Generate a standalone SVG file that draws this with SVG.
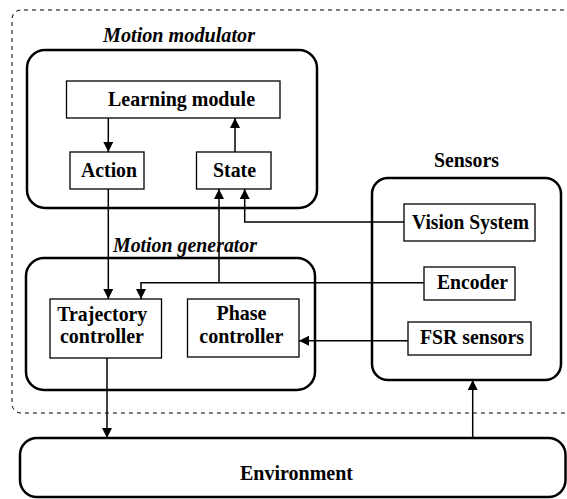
<svg xmlns="http://www.w3.org/2000/svg" width="567" height="499" viewBox="0 0 567 499">
<defs>
<style>
.grp{fill:none;stroke:#000;stroke-width:2.5}
.box{fill:#fff;stroke:#000;stroke-width:1.3}
.t{font-family:"Liberation Serif","Times New Roman",serif;font-weight:bold;font-size:21px;text-anchor:middle;fill:#000}
.ti{font-family:"Liberation Serif","Times New Roman",serif;font-weight:bold;font-style:italic;font-size:21px;text-anchor:middle;fill:#000}
.c{fill:none;stroke:#000;stroke-width:1.5}
</style>
<marker id="ah" viewBox="0 0 10 10" refX="10" refY="5" markerWidth="10" markerHeight="10" markerUnits="userSpaceOnUse" orient="auto">
<path d="M0,0 L10,5 L0,10 Z" fill="#000"/>
</marker>
</defs>
<rect width="567" height="499" fill="#fff"/>
<path id="outer" d="M580,10 H21 A9,9 0 0 0 12,19 V404 A9,9 0 0 0 21,413 H580" fill="none" stroke="#000" stroke-width="1" stroke-dasharray="4,4"/>

<g id="modulator">
<rect class="grp" x="27" y="50" width="290" height="158" rx="18"/>
<text class="ti" x="179" y="42" textLength="152" lengthAdjust="spacingAndGlyphs">Motion modulator</text>
</g>
<g id="learning">
<rect class="box" x="66.5" y="81" width="213.5" height="37"/>
<text class="t" x="181.5" y="106" textLength="147" lengthAdjust="spacingAndGlyphs">Learning module</text>
</g>
<g id="action">
<rect class="box" x="70" y="152" width="74" height="37"/>
<text class="t" x="109" y="177" textLength="56" lengthAdjust="spacingAndGlyphs">Action</text>
</g>
<g id="state">
<rect class="box" x="196.5" y="152" width="74.5" height="37"/>
<text class="t" x="234.5" y="177" textLength="43" lengthAdjust="spacingAndGlyphs">State</text>
</g>

<g id="generator">
<rect class="grp" x="26" y="258" width="289" height="132" rx="18"/>
<text class="ti" x="185" y="252" textLength="144" lengthAdjust="spacingAndGlyphs">Motion generator</text>
</g>
<g id="trajectory">
<rect class="box" x="50" y="299" width="111.5" height="59"/>
<text class="t" x="102.3" y="320.7" textLength="90" lengthAdjust="spacingAndGlyphs">Trajectory</text>
<text class="t" x="102" y="343.3" textLength="84" lengthAdjust="spacingAndGlyphs">controller</text>
</g>
<g id="phase">
<rect class="box" x="187.5" y="299" width="111.5" height="58"/>
<text class="t" x="241.5" y="320" textLength="50" lengthAdjust="spacingAndGlyphs">Phase</text>
<text class="t" x="241.3" y="343.3" textLength="84" lengthAdjust="spacingAndGlyphs">controller</text>
</g>

<g id="sensors">
<rect class="grp" x="372" y="178" width="189" height="202" rx="16"/>
<text class="t" x="466.5" y="167" textLength="65" lengthAdjust="spacingAndGlyphs">Sensors</text>
</g>
<g id="vision">
<rect class="box" x="404" y="204" width="131" height="37"/>
<text class="t" x="470.5" y="228.5" textLength="117" lengthAdjust="spacingAndGlyphs">Vision System</text>
</g>
<g id="encoder">
<rect class="box" x="424" y="267" width="91" height="33"/>
<text class="t" x="472.5" y="289" textLength="71" lengthAdjust="spacingAndGlyphs">Encoder</text>
</g>
<g id="fsr">
<rect class="box" x="408" y="322" width="123" height="33"/>
<text class="t" x="472" y="344" textLength="104" lengthAdjust="spacingAndGlyphs">FSR sensors</text>
</g>

<g id="environment">
<rect class="grp" x="20" y="438" width="545.5" height="59" rx="17"/>
<text class="t" x="296.5" y="479.5" textLength="113" lengthAdjust="spacingAndGlyphs">Environment</text>
</g>

<g id="connectors">
<line class="c" x1="108.3" y1="118" x2="108.3" y2="152" marker-end="url(#ah)"/>
<line class="c" x1="235" y1="152" x2="235" y2="118" marker-end="url(#ah)"/>
<line class="c" x1="108.3" y1="189" x2="108.3" y2="299" marker-end="url(#ah)"/>
<polyline class="c" points="404,222 244.7,222 244.7,189" marker-end="url(#ah)"/>
<polyline class="c" points="424,282.7 141,282.7 141,299" marker-end="url(#ah)"/>
<line class="c" x1="219" y1="282.7" x2="219" y2="189" marker-end="url(#ah)"/>
<line class="c" x1="408" y1="340.7" x2="299" y2="340.7" marker-end="url(#ah)"/>
<line class="c" x1="107" y1="358" x2="107" y2="438" marker-end="url(#ah)"/>
<line class="c" x1="472.7" y1="438" x2="472.7" y2="380" marker-end="url(#ah)"/>
</g>
</svg>
